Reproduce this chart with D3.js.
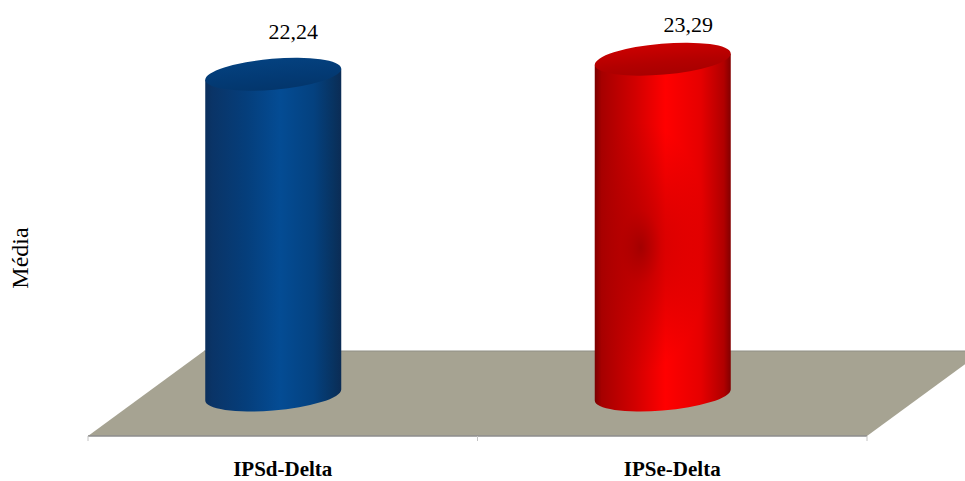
<!DOCTYPE html>
<html>
<head>
<meta charset="utf-8">
<script src="https://d3js.org/d3.v7.min.js"></script>
<style>
html,body{margin:0;padding:0;background:#fff;}
svg{display:block;}
text{font-family:"Liberation Serif","Times New Roman",serif;fill:#000;}
</style>
</head>
<body>
<svg id="chart" width="965" height="481"></svg>
<script>
const categories = ["IPSd-Delta", "IPSe-Delta"];
const means = [22.24, 23.29];
const valueLabels = ["22,24", "23,29"];
const seriesKeys = ["blue", "red"];
const axisTitle = "Média";

const svg = d3.select("#chart");

// Front edge of the floor runs along the category axis; depth pushes it back and to the right.
const x = d3.scaleBand().domain(categories).range([88, 867]);
const y = d3.scaleLinear().domain([0, 25]).range([395, 34.5]);
const floorFront = 436, floorBack = 351, floorDepthX = 116;
const barShift = -9.5;        // cylinders sit slightly left of the band centre
const rx = 68, ry = 15.5, a = 68.2, tilt = -4.9, tipDy = 5.5;
const labelDx = [20, 25.5], labelDy = [-35.5, -27];

const defs = svg.append("defs");

function gradient(id, vertical, stops) {
  const g = defs.append("linearGradient").attr("id", id)
    .attr("x1", "0%").attr("y1", "0%")
    .attr("x2", vertical ? "0%" : "100%").attr("y2", vertical ? "100%" : "0%");
  stops.forEach(s => g.append("stop").attr("offset", s[0]).attr("stop-color", s[1]));
}
gradient("body-blue", false, [[0, "#0b2f5c"], [0.05, "#0a3467"], [0.3, "#053e7b"], [0.55, "#044c94"], [0.8, "#04417f"], [0.95, "#08325f"], [1, "#0b2c55"]]);
gradient("body-red", false, [[0, "#7a0000"], [0.05, "#a60000"], [0.3, "#d20000"], [0.52, "#ff0000"], [0.78, "#e60000"], [0.95, "#b00000"], [1, "#820000"]]);
gradient("cap-blue", true, [[0, "#04417f"], [0.6, "#033a74"], [1, "#03366c"]]);
gradient("cap-red", true, [[0, "#cc0000"], [0.6, "#b30000"], [1, "#a80000"]]);

// Vertical shading on the red cylinder: a dark patch mid-height, bright bands above and below.
const shade = defs.append("radialGradient").attr("id", "red-shade");
shade.append("stop").attr("offset", 0).attr("stop-color", "#960000").attr("stop-opacity", 0.8);
shade.append("stop").attr("offset", 0.3).attr("stop-color", "#a80000").attr("stop-opacity", 0.45);
shade.append("stop").attr("offset", 1).attr("stop-color", "#b00000").attr("stop-opacity", 0);

// Floor
const [x0, x1] = x.range();
svg.append("path")
  .attr("d", d3.line()([[x0, floorFront], [x1, floorFront], [x1 + floorDepthX, floorBack], [x0 + floorDepthX, floorBack]]) + "Z")
  .attr("fill", "#a6a392");
svg.append("path")
  .attr("d", d3.line()([[x0 + floorDepthX, floorBack], [x1 + floorDepthX, floorBack]]))
  .attr("stroke", "#8f8f85").attr("stroke-width", 1.2).attr("fill", "none");
svg.append("path")
  .attr("d", d3.line()([[x0, floorFront], [x1, floorFront]]))
  .attr("stroke", "#8c8c8c").attr("stroke-width", 1.5).attr("fill", "none");

// Tick marks at the band boundaries
const edges = [x0, x(categories[1]), x1];
svg.append("g").selectAll("line").data(edges).join("line")
  .attr("x1", d => d).attr("x2", d => d)
  .attr("y1", floorFront).attr("y2", floorFront + 5)
  .attr("stroke", "#c4c4c4").attr("stroke-width", 1);

// Cylinders
const bars = svg.append("g").selectAll("g").data(categories).join("g");
bars.each(function (cat, i) {
  const g = d3.select(this);
  const cx = x(cat) + x.bandwidth() / 2 + barShift;
  const topY = y(means[i]), baseY = y(0);
  const key = seriesKeys[i];
  const body = `M${cx - rx},${topY + tipDy}` +
    `L${cx - rx},${baseY + tipDy}` +
    `A${a},${ry} ${tilt} 0 0 ${cx + rx},${baseY - tipDy}` +
    `L${cx + rx},${topY - tipDy}Z`;
  g.append("path").attr("d", body).attr("fill", `url(#body-${key})`);
  if (key === "red") {
    defs.append("clipPath").attr("id", "red-body-clip").append("path").attr("d", body);
    g.append("ellipse")
      .attr("clip-path", "url(#red-body-clip)")
      .attr("cx", cx - 22).attr("cy", y(means[i] * 0.44))
      .attr("rx", 68).attr("ry", 125)
      .attr("fill", "url(#red-shade)");
  }
  g.append("ellipse")
    .attr("cx", cx).attr("cy", topY)
    .attr("rx", a).attr("ry", ry)
    .attr("transform", `rotate(${tilt} ${cx} ${topY})`)
    .attr("fill", `url(#cap-${key})`);
  g.append("text")
    .attr("x", cx + labelDx[i]).attr("y", topY + labelDy[i])
    .attr("text-anchor", "middle")
    .attr("font-size", 22)
    .text(valueLabels[i]);
});

// Category labels
svg.append("g").selectAll("text").data(categories).join("text")
  .attr("x", d => x(d) + x.bandwidth() / 2)
  .attr("y", 476.3)
  .attr("text-anchor", "middle")
  .attr("font-size", 21)
  .attr("font-weight", "bold")
  .text(d => d);

// Vertical axis title
svg.append("text")
  .attr("transform", "translate(28,258) rotate(-90)")
  .attr("text-anchor", "middle")
  .attr("font-size", 24)
  .text(axisTitle);
</script>
</body>
</html>
